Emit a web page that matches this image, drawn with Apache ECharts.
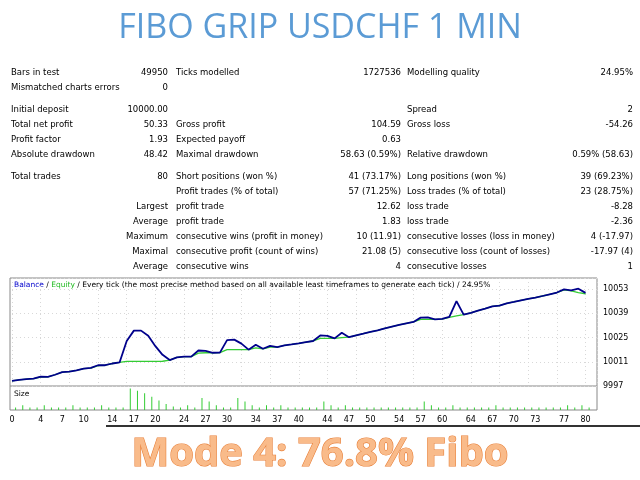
<!DOCTYPE html>
<html><head><meta charset="utf-8">
<script src="https://cdn.jsdelivr.net/npm/echarts@6/dist/echarts.min.js"></script>
<style>html,body{margin:0;padding:0;background:#fff}#c{width:640px;height:480px}</style>
</head><body><div id="c"></div>
<script>
var balance=[10000.0,10000.5,10001,10001.3,10002.4,10002.3,10003.5,10005.0,10005.3,10006,10007,10007.5,10009,10009,10010,10010.6,10023,10029,10029,10026,10020,10015,10012,10013.5,10014,10014,10017.5,10017.3,10016.2,10016.3,10023.5,10023.8,10021.5,10018,10020.8,10018.5,10020.2,10019.5,10020.5,10021,10021.6,10022.3,10023,10026.2,10026,10024.5,10027.8,10025.2,10026.2,10027.2,10028.3,10029.2,10030.3,10031.3,10032.3,10033.2,10034,10036.5,10036.6,10035.5,10035.8,10037,10046,10038.2,10039.3,10040.5,10041.7,10043,10043.5,10044.8,10045.6,10046.5,10047.3,10048,10049,10050,10051,10052.8,10052.3,10053.2,10050.8];
var equity=[10000.0,10000.5,10001,10001.3,10002.2,10002.3,10003.5,10005.0,10005.3,10006,10007,10007.3,10008.8,10009,10010,10010.6,10011.2,10011.2,10011.2,10011.2,10011.2,10011.3,10012,10013.5,10014,10014,10016,10016.2,10016.2,10016.3,10018,10018,10018,10018,10019,10018.5,10019.5,10019.5,10020.5,10021,10021.6,10022.3,10023,10024.5,10024.5,10024.5,10025,10025.2,10026.2,10027.2,10028.3,10029.2,10030.3,10031.3,10032.3,10033.2,10034,10035.5,10035.5,10035.5,10035.6,10036.7,10037.5,10038.2,10039.3,10040.5,10041.7,10043,10043.5,10044.8,10045.6,10046.5,10047.3,10048,10049,10050,10051,10052.5,10052,10051,10050.3];
var sizes=[1,2,1,1,2,1,1,1,2,1,1,1,2,1,1,1,9,8,7,5.5,4,2.5,1.5,1,2,1,5,3.5,2,1,1,5,3.5,2,1,2,1,2,1,1,1,1,1,3.5,2,1,2,1,1,1,1,1,1,1,1,1,1,3.5,2,1,1,2,1,1,1,1,1,2,1,1,1,1,1,1,1,1,1,2,1,2,1];
var xTicks=[0,4,7,10,14,17,20,24,27,30,34,37,40,44,47,50,54,57,60,64,67,70,73,77,80];
var rows=[
 [73,'Bars in test','49950','Ticks modelled','1727536','Modelling quality','24.95%'],
 [88,'Mismatched charts errors','0','','','',''],
 [110,'Initial deposit','10000.00','','','Spread','2'],
 [125,'Total net profit','50.33','Gross profit','104.59','Gross loss','-54.26'],
 [140,'Profit factor','1.93','Expected payoff','0.63','',''],
 [155,'Absolute drawdown','48.42','Maximal drawdown','58.63 (0.59%)','Relative drawdown','0.59% (58.63)'],
 [177,'Total trades','80','Short positions (won %)','41 (73.17%)','Long positions (won %)','39 (69.23%)'],
 [192,'','','Profit trades (% of total)','57 (71.25%)','Loss trades (% of total)','23 (28.75%)'],
 [207,'','Largest','profit trade','12.62','loss trade','-8.28'],
 [222,'','Average','profit trade','1.83','loss trade','-2.36'],
 [237,'','Maximum','consecutive wins (profit in money)','10 (11.91)','consecutive losses (loss in money)','4 (-17.97)'],
 [252,'','Maximal','consecutive profit (count of wins)','21.08 (5)','consecutive loss (count of losses)','-17.97 (4)'],
 [267,'','Average','consecutive wins','4','consecutive losses','1']
];
var F='"DejaVu Sans", sans-serif';
var g=[];
function t(x,y,s,align){g.push({type:'text',style:{text:s,x:x,y:y,fill:'#000',font:'8.5px '+F,textAlign:align||'left',textVerticalAlign:'middle'}});}
rows.forEach(function(r){var y=r[0];
 if(r[1])t(11,y,r[1]);
 if(r[2])t(168,y,r[2],'right');
 if(r[3])t(176,y,r[3]);
 if(r[4])t(401,y,r[4],'right');
 if(r[5])t(407,y,r[5]);
 if(r[6])t(633,y,r[6],'right');
});
g.push({type:'text',style:{text:'FIBO GRIP USDCHF 1 MIN',x:320,y:28,textAlign:'center',textVerticalAlign:'middle',fill:'#5b9bd5',font:'34px "Open Sans", sans-serif'}});
g.push({type:'text',style:{text:'Mode 4: 76.8% Fibo',x:320,y:455,textAlign:'center',textVerticalAlign:'middle',fill:'#f9bb8a',stroke:'#e8803a',lineWidth:1.2,font:'bold 40px "Open Sans", sans-serif'}});
g.push({type:'rect',shape:{x:10,y:278,width:587,height:132},style:{fill:'none',stroke:'#888',lineWidth:1}});
g.push({type:'line',shape:{x1:10,y1:386,x2:597,y2:386},style:{stroke:'#888',lineWidth:1}});
g.push({type:'rect',shape:{x:106,y:425,width:534,height:2},style:{fill:'#333'}});
g.push({type:'text',style:{text:'{b|Balance} / {e|Equity} / Every tick (the most precise method based on all available least timeframes to generate each tick) / 24.95%',x:14,y:285,textVerticalAlign:'middle',fill:'#000',font:'7.5px '+F,rich:{b:{fill:'#0000cc',font:'7.5px '+F},e:{fill:'#22bb22',font:'7.5px '+F}}}});
g.push({type:'text',style:{text:'Size',x:14,y:394,textVerticalAlign:'middle',fill:'#000',font:'7.5px '+F}});
var idx=balance.map(function(_,i){return i;});
var chart=echarts.init(document.getElementById('c'));
chart.setOption({
 animation:false,backgroundColor:'#fff',
 graphic:g,
 grid:[{left:12,right:43,top:278,height:108},{left:12,right:43,top:386,height:24}],
 xAxis:[
  {type:'value',gridIndex:0,min:0,max:81.6,axisLine:{show:false},axisTick:{show:false},axisLabel:{show:false},splitLine:{show:true,lineStyle:{color:'#d8d8d8',type:[1,3]}},interval:4},
  {type:'value',gridIndex:1,min:0,max:81.6,axisLine:{show:false},axisTick:{show:false},splitLine:{show:false},
   axisLabel:{customValues:xTicks,fontSize:8,color:'#000',fontFamily:F,margin:6}}
 ],
 yAxis:[
  {type:'value',gridIndex:0,position:'right',min:9997,max:10059.4,interval:14,axisLine:{show:false},axisTick:{show:false},
   axisLabel:{fontSize:8,color:'#000',fontFamily:F,margin:6,showMaxLabel:false,formatter:function(v){return String(v);}},splitLine:{lineStyle:{color:'#d8d8d8',type:[1,3]}}},
  {type:'value',gridIndex:1,min:0,max:10,show:false}
 ],
 series:[
  {type:'line',xAxisIndex:0,yAxisIndex:0,data:idx.map(function(i){return [i,equity[i]];}),symbol:'none',lineStyle:{color:'#33cc33',width:1.3},z:2},
  {type:'line',xAxisIndex:0,yAxisIndex:0,data:idx.map(function(i){return [i,balance[i]];}),symbol:'none',lineStyle:{color:'#00008b',width:1.8},z:3},
  {type:'bar',xAxisIndex:1,yAxisIndex:1,data:idx.map(function(i){return [i+0.5,sizes[i]];}),barWidth:1,itemStyle:{color:'#33cc33'}}
 ]
});
</script></body></html>
